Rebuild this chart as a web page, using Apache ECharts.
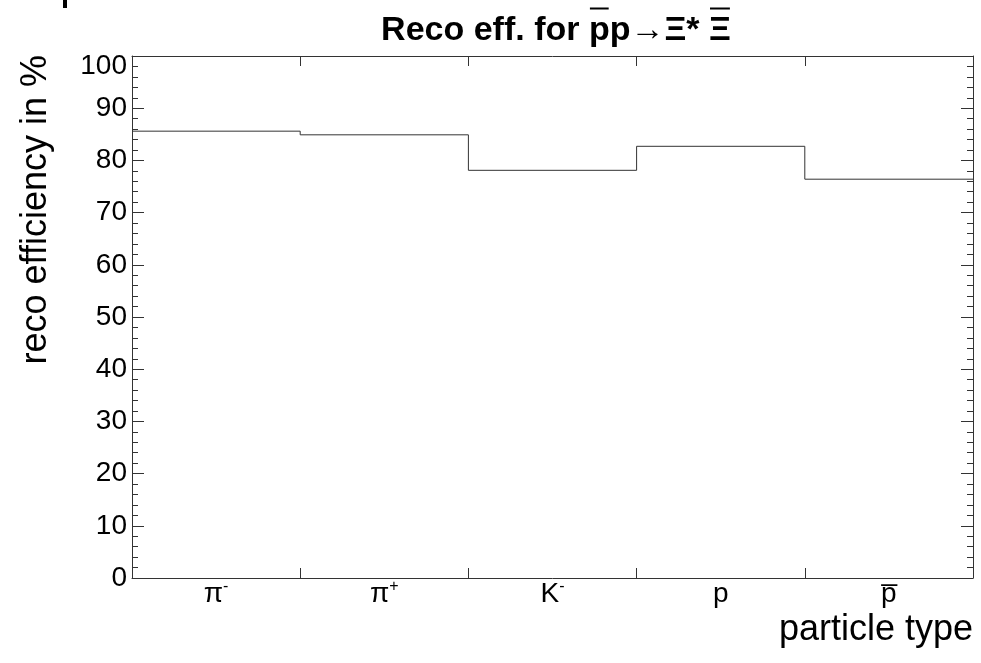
<!DOCTYPE html>
<html><head><meta charset="utf-8">
<script src="https://cdn.jsdelivr.net/npm/echarts@6/dist/echarts.min.js"></script>
<style>html,body{margin:0;padding:0;background:#fff}#c{width:981px;height:663px}</style>
</head><body><div id="c"></div>
<script>
// ---- data ----
const categories = ['pi-', 'pi+', 'K-', 'p', 'pbar'];
const categoryLabels = ['{b|π}{s|-}', '{b|π}{s|+}', '{b|K}{s|-}', '{b|p}', '{b|p\u0305}'];
const efficiency = [85.6, 84.9, 78.1, 82.7, 76.4];
const yTicks = [0, 10, 20, 30, 40, 50, 60, 70, 80, 90, 100];
// title pieces; "bar" marks an overlined (anti-particle) symbol
const titlePieces = [
  {t: 'Reco eff. for ', bar: false},
  {t: 'p', bar: true},
  {t: 'p\u2192\u039E* ', bar: false},
  {t: '\u039E', bar: true}
];
const yTitle = 'reco efficiency in %';
const xTitle = 'particle type';

// histogram outline points built from the bin values (bin i spans [i, i+1])
const stepData = efficiency.map((v, i) => [i, v]).concat([[efficiency.length, efficiency[efficiency.length - 1]]]);

const FONT = '"Liberation Sans", Arial, Helvetica, sans-serif';
const AX = '#333';

// lay out the title pieces side by side using measured widths
const TITLE_FONT = 'bold 34px ' + FONT;
const mctx = document.createElement('canvas').getContext('2d');
mctx.font = TITLE_FONT;
const widths = titlePieces.map(p => mctx.measureText(p.t).width);
const totalW = widths.reduce((a, b) => a + b, 0);
let cx = 556 - totalW / 2;
const titleChildren = [];
titlePieces.forEach((p, i) => {
  titleChildren.push({type: 'text', x: cx, y: 31, style: {text: p.t, font: TITLE_FONT, fill: '#000', align: 'left', verticalAlign: 'middle'}});
  if (p.bar) {
    titleChildren.push({type: 'line', shape: {x1: cx + 1, y1: 8.5, x2: cx + widths[i] - 1, y2: 8.5}, style: {stroke: '#000', lineWidth: 2}});
  }
  cx += widths[i];
});

const chart = echarts.init(document.getElementById('c'), null, {renderer: 'canvas'});
chart.setOption({
  backgroundColor: '#fff',
  animation: false,
  grid: {left: 132, right: 8, top: 56, bottom: 85, containLabel: false},
  xAxis: [
    {
      type: 'category', data: categories, position: 'bottom', boundaryGap: true,
      axisLine: {show: true, lineStyle: {color: AX, width: 1}},
      axisTick: {show: true, inside: true, length: 10, lineStyle: {color: AX}},
      axisLabel: {
        margin: 1, color: '#000', fontFamily: FONT, fontSize: 28,
        formatter: (v, i) => categoryLabels[i],
        rich: {
          b: {fontFamily: FONT, fontSize: 28, color: '#000', lineHeight: 30},
          s: {fontFamily: FONT, fontSize: 16, color: '#000', verticalAlign: 'top', lineHeight: 16}
        }
      },
      splitLine: {show: false}
    },
    {type: 'value', min: 0, max: categories.length, show: false},
    {
      type: 'category', data: categories, position: 'top', boundaryGap: true,
      axisLine: {show: true, lineStyle: {color: AX, width: 1}},
      axisTick: {show: true, inside: true, length: 10, lineStyle: {color: AX}},
      axisLabel: {show: false}, splitLine: {show: false}
    }
  ],
  yAxis: [
    {
      type: 'value', min: yTicks[0], max: yTicks[yTicks.length - 1], interval: 10, position: 'left',
      axisLine: {show: true, lineStyle: {color: AX, width: 1}},
      axisTick: {show: true, inside: true, length: 12, lineStyle: {color: AX}},
      minorTick: {show: true, splitNumber: 5, length: 6, lineStyle: {color: AX}},
      splitLine: {show: false}, minorSplitLine: {show: false},
      axisLabel: {
        margin: 5, color: '#000', fontFamily: FONT, fontSize: 28,
        formatter: v => v === 100 ? '{t|' + v + '}' : String(v),
        rich: {t: {fontFamily: FONT, fontSize: 28, color: '#000', padding: [20, 0, 0, 0]}}
      }
    },
    {
      type: 'value', min: yTicks[0], max: yTicks[yTicks.length - 1], interval: 10, position: 'right',
      axisLine: {show: true, lineStyle: {color: AX, width: 1}},
      axisTick: {show: true, inside: true, length: 12, lineStyle: {color: AX}},
      minorTick: {show: true, splitNumber: 5, length: 6, lineStyle: {color: AX}},
      splitLine: {show: false}, minorSplitLine: {show: false},
      axisLabel: {show: false}
    }
  ],
  series: [{
    type: 'line', xAxisIndex: 1, yAxisIndex: 0, step: 'end', data: stepData,
    showSymbol: false, symbol: 'none', lineStyle: {color: '#333', width: 1}, silent: true
  }],
  graphic: [
    {type: 'group', children: titleChildren},
    {type: 'text', x: 36, y: 55, rotation: Math.PI / 2, style: {text: yTitle, font: '36px ' + FONT, fill: '#000', align: 'right', verticalAlign: 'middle'}},
    {type: 'text', x: 973, y: 630, style: {text: xTitle, font: '36px ' + FONT, fill: '#000', align: 'right', verticalAlign: 'middle'}},
    {type: 'rect', shape: {x: 63, y: 0, width: 4, height: 8}, style: {fill: '#000'}}
  ]
});
</script>
</body></html>
